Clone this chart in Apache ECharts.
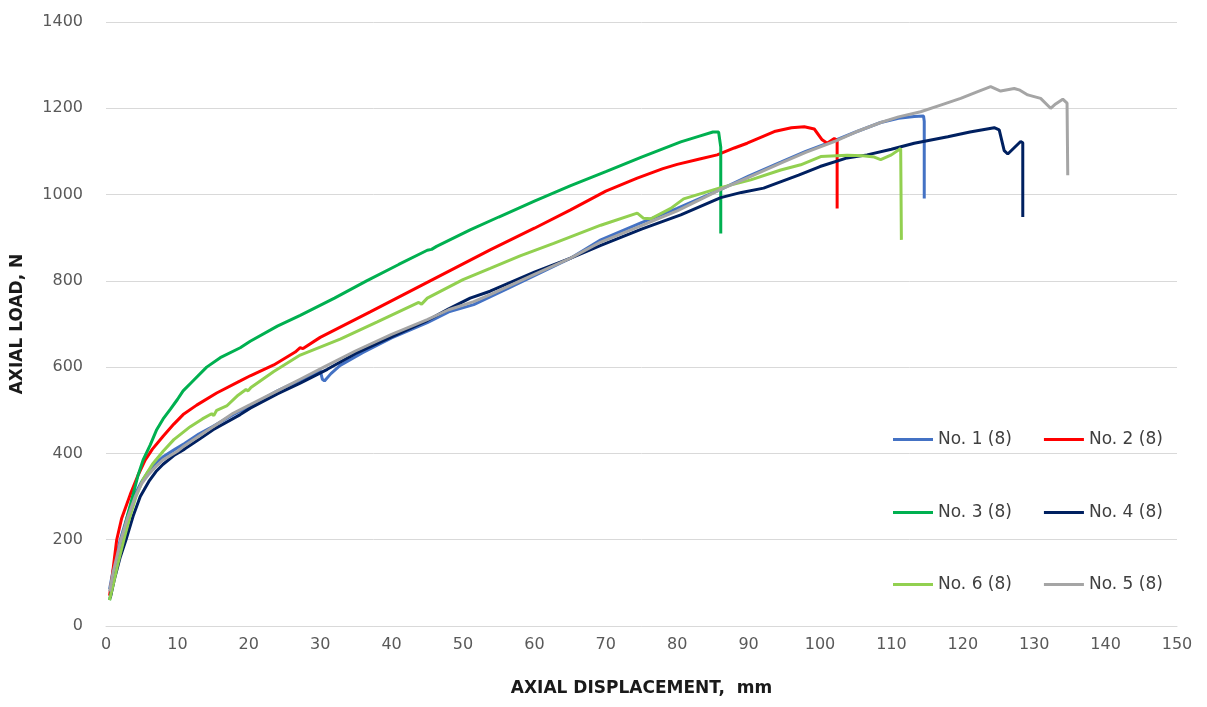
<!DOCTYPE html>
<html>
<head>
<meta charset="utf-8">
<script src="https://cdn.jsdelivr.net/npm/echarts@6/dist/echarts.min.js"></script>
<style>html,body{margin:0;padding:0;background:#fff}#c{width:1207px;height:707px}</style>
</head>
<body>
<div id="c"></div>
<script>
const xTicks = [0,10,20,30,40,50,60,70,80,90,100,110,120,130,140,150];
const yTicks = [0,200,400,600,800,1000,1200,1400];
const names = ['No. 1 (8)','No. 2 (8)','No. 3 (8)','No. 4 (8)','No. 6 (8)','No. 5 (8)'];
const colors = ['#4472C4','#FF0000','#00B050','#002060','#92D050','#A5A5A5'];

const no1 = [[0.5,85],[1,130],[2,200],[3,255],[3.9,300],[5,335],[6,360],[7,378],[8,392],[9.7,410],[11,423],[13,445],[15,463],[17.8,490],[20.2,510],[24,545],[27.2,570],[30,592],[30.3,572],[30.6,568],[31.5,585],[32.8,604],[36,634],[40,668],[45,703],[48,728],[51.5,745],[56,780],[60,812],[65,852],[69.3,895],[75,935],[80,968],[86.1,1012],[90,1043],[94.5,1075],[98,1100],[102,1125],[105,1145],[108.5,1167],[111,1177],[113.2,1181],[114.5,1182],[114.6,1170],[114.6,991]];
const no2 = [[0.5,70],[0.8,105],[1.2,160],[1.5,200],[2.2,250],[3.4,305],[4.5,350],[5.5,385],[6.5,410],[8,440],[9.5,468],[10.8,490],[12.7,512],[15.5,540],[18.8,568],[20.2,580],[23.5,605],[26.5,635],[27.2,645],[27.6,643],[30,669],[37,728],[45.4,800],[53.8,872],[60,922],[65,964],[70,1008],[74.4,1038],[78,1060],[80,1070],[83,1082],[85.6,1092],[88,1108],[89.8,1119],[93.6,1146],[96,1155],[97.8,1157],[99.2,1152],[100.3,1127],[101,1119],[102,1130],[102.4,1126],[102.4,968]];
const no3 = [[0.5,60],[1,100],[1.5,140],[2.2,200],[3,255],[3.8,305],[4.5,350],[5.2,385],[6.2,420],[7.1,455],[8,480],[9,502],[10,525],[10.8,545],[12,565],[14.1,600],[16,622],[18.8,645],[20.2,660],[24,695],[27.2,720],[32,760],[36.5,800],[41,838],[45,871],[45.6,873],[46.3,880],[51,918],[55,948],[60,985],[65,1020],[70,1053],[75,1087],[80.5,1122],[83,1135],[85,1145],[85.8,1145],[86.1,1110],[86.1,910]];
const no4 = [[0.6,65],[1.2,110],[2,160],[2.8,200],[3.8,255],[4.8,300],[6,335],[7,358],[8,375],[9.5,395],[11,410],[13,432],[15,455],[18.8,490],[20.2,505],[24,538],[27.2,563],[31,595],[35,632],[40,670],[45,708],[48,735],[51,760],[53.8,776],[60,820],[65,852],[69.3,882],[75,920],[80.5,953],[86.1,993],[89,1005],[92.1,1015],[97,1045],[100,1065],[103.8,1085],[106.6,1092],[110,1105],[113.2,1119],[117.9,1134],[121,1145],[124.4,1155],[125.1,1150],[125.8,1102],[126.3,1094],[128.1,1123],[128.4,1120],[128.4,948]];
const no6 = [[0.5,60],[1,95],[1.6,140],[2.5,200],[3.3,250],[4.2,300],[5.2,340],[6.5,375],[8,405],[9.5,432],[11.8,462],[13.5,480],[14.8,492],[15.1,488],[15.5,500],[16.9,510],[18.5,535],[19.6,548],[19.9,545],[20.3,553],[23.5,590],[27.2,628],[32.8,665],[38,705],[43.8,750],[44.2,746],[45,760],[50,803],[53.8,829],[58,858],[62.7,887],[69.3,929],[74.4,957],[75.3,945],[76.3,944],[79.1,968],[80.9,990],[86.1,1016],[90.3,1034],[94.5,1057],[97.3,1069],[100.1,1088],[103.8,1091],[106,1090],[107.6,1087],[108.5,1081],[110,1092],[111.3,1107],[111.4,895]];
const no5 = [[0.5,80],[1,125],[2.1,200],[3,250],[4.1,300],[5,330],[6,352],[7,370],[8,385],[10,405],[11,418],[13,440],[15,462],[17.8,493],[20.2,513],[24,545],[27.2,572],[30.5,600],[35,638],[40,676],[45,710],[48,733],[51.5,752],[53.8,768],[60,815],[65,852],[69.3,890],[75,928],[80,962],[86.1,1012],[90,1040],[94.5,1073],[98,1098],[102,1123],[105,1145],[108.5,1167],[111,1180],[114.1,1192],[117,1208],[119.7,1223],[122,1238],[123.9,1250],[125.3,1240],[127.2,1246],[128,1242],[129.1,1231],[130.9,1223],[132.3,1200],[133,1210],[134,1221],[134.6,1212],[134.7,1045]];

const seriesData = [no1, no2, no3, no4, no6, no5];

const chart = echarts.init(document.getElementById('c'), null, {renderer:'canvas'});
const font = 'DejaVu Sans';
function legendRow(items, top) {
  return {
    data: items, left: 888, top: top, orient: 'horizontal',
    itemWidth: 40, itemHeight: 3, itemGap: 32, icon: 'rect',
    textStyle: {fontFamily: font, fontSize: 17, color: '#404040'},
    selectedMode: false
  };
}
chart.setOption({
  animation: false,
  color: colors,
  grid: {left: 106, right: 30, top: 22, bottom: 81},
  legend: [
    legendRow([names[0], names[1]], 426),
    legendRow([names[2], names[3]], 499),
    legendRow([names[4], names[5]], 571)
  ],
  xAxis: {
    type: 'value', min: 0, max: 150, interval: 10,
    name: 'AXIAL DISPLACEMENT,  mm', nameLocation: 'middle', nameGap: 54,
    nameTextStyle: {fontFamily: font, fontSize: 17, fontWeight: 'bold', color: '#1a1a1a'},
    axisLine: {show: true, lineStyle: {color: '#d9d9d9', width: 1}},
    axisTick: {show: false},
    splitLine: {show: false},
    axisLabel: {fontFamily: font, fontSize: 16, color: '#595959', margin: 11,
      formatter: v => xTicks.includes(v) ? String(v) : ''}
  },
  yAxis: {
    type: 'value', min: 0, max: 1400, interval: 200,
    name: 'AXIAL LOAD, N', nameLocation: 'middle', nameGap: 80,
    nameTextStyle: {fontFamily: font, fontSize: 17, fontWeight: 'bold', color: '#1a1a1a'},
    axisLine: {show: false}, axisTick: {show: false},
    splitLine: {show: true, lineStyle: {color: '#d9d9d9', width: 1}},
    axisLabel: {fontFamily: font, fontSize: 16, color: '#595959', margin: 23,
      formatter: v => yTicks.includes(v) ? String(v) : ''}
  },
  series: seriesData.map((d, i) => ({
    name: names[i], type: 'line', data: d, showSymbol: false, symbol: 'none',
    lineStyle: {width: 3, color: colors[i]}, itemStyle: {color: colors[i]},
    z: 2 + i
  }))
});
</script>
</body>
</html>
